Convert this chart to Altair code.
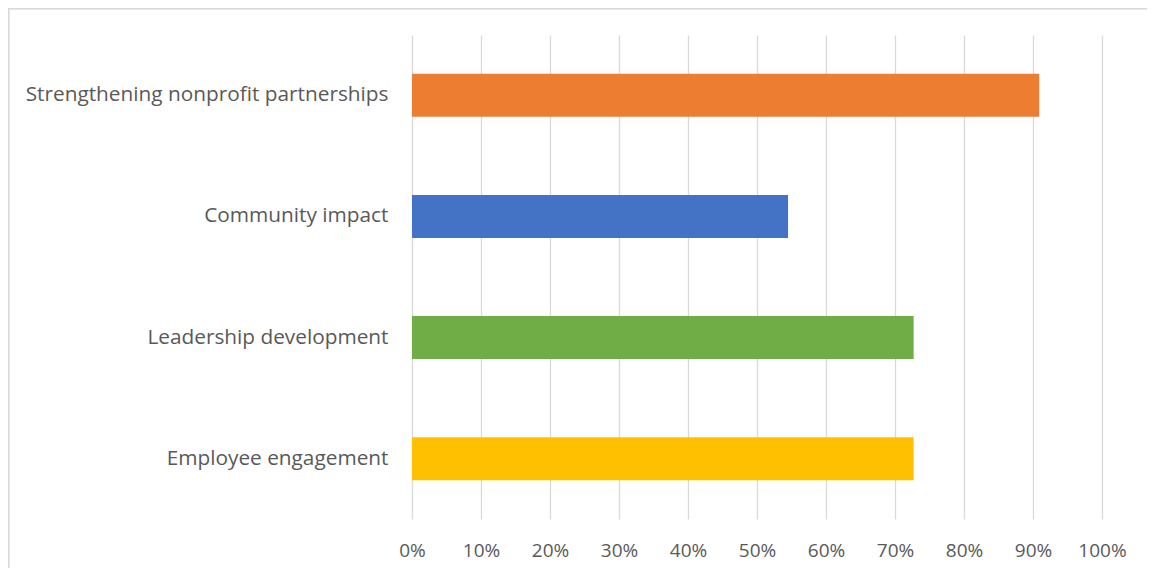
import altair as alt
import pandas as pd

categories = ["Strengthening nonprofit partnerships", "Community impact",
              "Leadership development", "Employee engagement"]
values = [0.909, 0.545, 0.727, 0.727]
colors = ["#ED7D31", "#4472C4", "#70AD47", "#FFC000"]
ticks = [i / 10 for i in range(11)]

df = pd.DataFrame({"cat": categories, "val": values, "color": colors})

W, H = 690, 484
R, B = 45, 49
FONT = "Open Sans"

bars = alt.Chart(df).mark_bar().encode(
    x=alt.X("val:Q", scale=alt.Scale(domain=[0, 1], nice=False),
            axis=alt.Axis(values=ticks, format=".0%", grid=True, gridColor="#D9D9D9",
                          gridWidth=1.3, domain=False, ticks=False, labelPadding=22,
                          labelAlign="center", labelFontSize=19, labelColor="#595959",
                          labelFont=FONT, title=None)),
    y=alt.Y("cat:N", sort=categories,
            scale=alt.Scale(paddingInner=0.645, paddingOuter=0.32),
            axis=alt.Axis(domain=False, ticks=False, labelPadding=24, labelFontSize=20.8,
                          labelColor="#595959", labelFont=FONT, title=None,
                          labelLimit=500)),
    color=alt.Color("color:N", scale=None, legend=None),
)

top_edge = alt.Chart(df).mark_rule(stroke="#D9D9D9", strokeWidth=1.5).encode(
    x=alt.value(-403.5), x2=alt.value(W + R), y=alt.value(-26.5),
)
left_edge = alt.Chart(df).mark_rule(stroke="#D9D9D9", strokeWidth=1.5).encode(
    x=alt.value(-403.5), y=alt.value(-26.5), y2=alt.value(H + B),
)

chart = alt.layer(top_edge, left_edge, bars).properties(
    width=W, height=H,
    autosize=alt.AutoSizeParams(type="none"),
    padding={"left": 404, "top": 27, "right": R, "bottom": B},
).configure_view(stroke=None)

chart.save("out.html", embed_options={"renderer": "svg", "actions": False})
